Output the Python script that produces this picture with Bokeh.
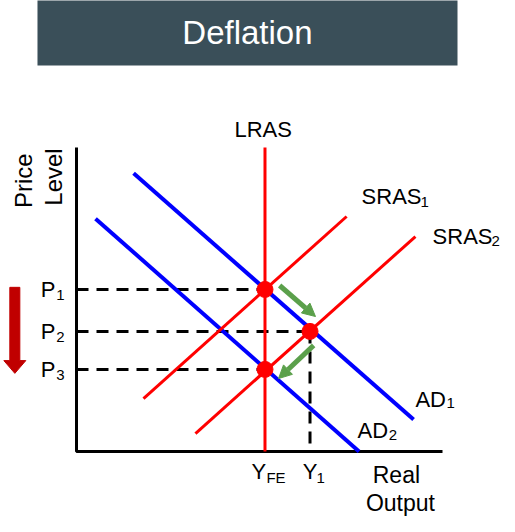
from bokeh.plotting import figure
from bokeh.models import Range1d, Arrow, NormalHead
from bokeh.core.properties import value
from bokeh.embed import file_html
from bokeh.resources import INLINE
import math

# ---------------- data (economic units, both axes run 0..10) ----------------
axis_line_x = [0, 0, 10]
axis_line_y = [10, 0, 0]

lras_x = 5.15
lras_y = [0, 10]

ad1_x = [1.56, 9.21]
ad1_y = [9.15, 1.05]
ad2_x = [0.52, 7.72]
ad2_y = [7.66, 0.0]

sras1_x = [1.83, 7.38]
sras1_y = [1.74, 7.73]
sras2_x = [3.25, 9.26]
sras2_y = [0.59, 7.07]

eq_x = [5.15, 6.38, 5.15]        # equilibria: P1, P2, P3
eq_p = [5.33, 3.95, 2.70]
p_main = ["P", "P", "P"]
p_subs = ["1", "2", "3"]
y_1 = 6.38

# curve labels: main text (left, baseline) and subscript (left, baseline)
lab_text = ["SRAS", "SRAS", "AD", "AD", "Y", "Y"]
lab_x = [7.79, 9.73, 9.26, 7.68, 4.78, 6.18]
lab_y = [8.16, 6.84, 1.48, 0.46, -0.89, -0.89]
sub_text = ["1", "2", "1", "2", "FE", "1"]
sub_x = [9.40, 11.34, 10.11, 8.53, 5.19, 6.56]
sub_y = [7.99, 6.71, 1.35, 0.30, -1.09, -1.09]

# green adjustment arrows (start -> end)
g_x0 = [5.55, 6.48]
g_y0 = [5.46, 3.49]
g_x1 = [6.53, 5.52]
g_y1 = [4.44, 2.40]

# red "price falls" arrow
arr_x, arr_top, arr_head, arr_tip = -1.685, 5.40, 2.99, 2.57
arr_shaft_hw, arr_head_hw = 0.137, 0.30

# title banner extent
banner_left, banner_right, banner_bottom, banner_top = -1.066, 10.41, 12.70, 15.5

FONT = value("Liberation Sans")
RED = "#FF0000"
BLUE = "#0000FF"
GREEN = "#5BA04B"
LIFT = -7   # pixel correction for alphabetic baseline

W, H = 515, 532
p = figure(width=W, height=H,
           x_range=Range1d(-76 / 36.6, (W - 76) / 36.6),
           y_range=Range1d((451 - H) / 30.4, 451 / 30.4),
           output_backend="svg", toolbar_location=None,
           x_axis_location=None, y_axis_location=None,
           min_border=0, tools="")
p.grid.visible = False
p.outline_line_color = None
p.background_fill_color = "white"
p.border_fill_color = "white"

# title banner
p.quad(left=[banner_left], right=[banner_right], bottom=[banner_bottom], top=[banner_top],
       fill_color="#3A4F59", line_color=None)
p.text(x=[4.67], y=[13.78], text=["Deflation"], text_font=FONT,
       text_font_size="33px", text_color="white",
       text_align="center", text_baseline="middle")

# dashed guides
for xe, pe in zip(eq_x, eq_p):
    p.line([0, xe], [pe, pe], line_color="black", line_width=3, line_dash="12 8")
p.line([y_1, y_1], [eq_p[1], 0], line_color="black", line_width=3, line_dash="12 8")

# axes
p.line(axis_line_x, axis_line_y, line_color="black", line_width=3)

# curves
p.line(ad1_x, ad1_y, line_color=BLUE, line_width=4)
p.line(ad2_x, ad2_y, line_color=BLUE, line_width=4)
p.line(sras1_x, sras1_y, line_color=RED, line_width=3)
p.line(sras2_x, sras2_y, line_color=RED, line_width=3)
p.line([lras_x, lras_x], lras_y, line_color=RED, line_width=3)

# equilibrium points
p.scatter(eq_x, eq_p, size=16, color=RED)

# green arrows
for a, b, c, d in zip(g_x0, g_y0, g_x1, g_y1):
    p.add_layout(Arrow(end=NormalHead(size=13, fill_color=GREEN, line_color=GREEN),
                       x_start=a, y_start=b, x_end=c, y_end=d,
                       line_color=GREEN, line_width=5))

# red down arrow
ax = [arr_x - arr_shaft_hw, arr_x + arr_shaft_hw, arr_x + arr_shaft_hw,
      arr_x + arr_head_hw, arr_x, arr_x - arr_head_hw, arr_x - arr_shaft_hw]
ay = [arr_top, arr_top, arr_head, arr_head, arr_tip, arr_head, arr_head]
p.patch(ax, ay, color="#C00000")

# labels
p.text(x=[5.10], y=[10.36], text=["LRAS"], text_font=FONT, text_font_size="22px",
       text_color="black", text_align="center", text_baseline="alphabetic", y_offset=LIFT)
p.text(x=lab_x, y=lab_y, text=lab_text, text_font=FONT, text_font_size="22px",
       text_color="black", text_align="left", text_baseline="alphabetic", y_offset=LIFT)
p.text(x=sub_x, y=sub_y, text=sub_text, text_font=FONT, text_font_size="15px",
       text_color="black", text_align="left", text_baseline="alphabetic", y_offset=LIFT)

# price level tick labels
p.text(x=[-0.98] * 3, y=eq_p, text=p_main, text_font=FONT, text_font_size="22px",
       text_color="black", text_align="left", text_baseline="middle")
p.text(x=[-0.55] * 3, y=eq_p, text=p_subs, text_font=FONT, text_font_size="15px",
       text_color="black", text_align="left", text_baseline="alphabetic", y_offset=6)

# axis titles
p.text(x=[-1.45, -0.63], y=[8.91, 9.03], text=["Price", "Level"], text_font=FONT,
       text_font_size="24px", text_color="black", angle=math.pi / 2,
       text_align="center", text_baseline="alphabetic")
p.text(x=[8.74, 8.85], y=[-0.99, -1.94], text=["Real", "Output"], text_font=FONT,
       text_font_size="23px", text_color="black",
       text_align="center", text_baseline="alphabetic", y_offset=LIFT)

open("out.html", "w").write(file_html(p, INLINE))
